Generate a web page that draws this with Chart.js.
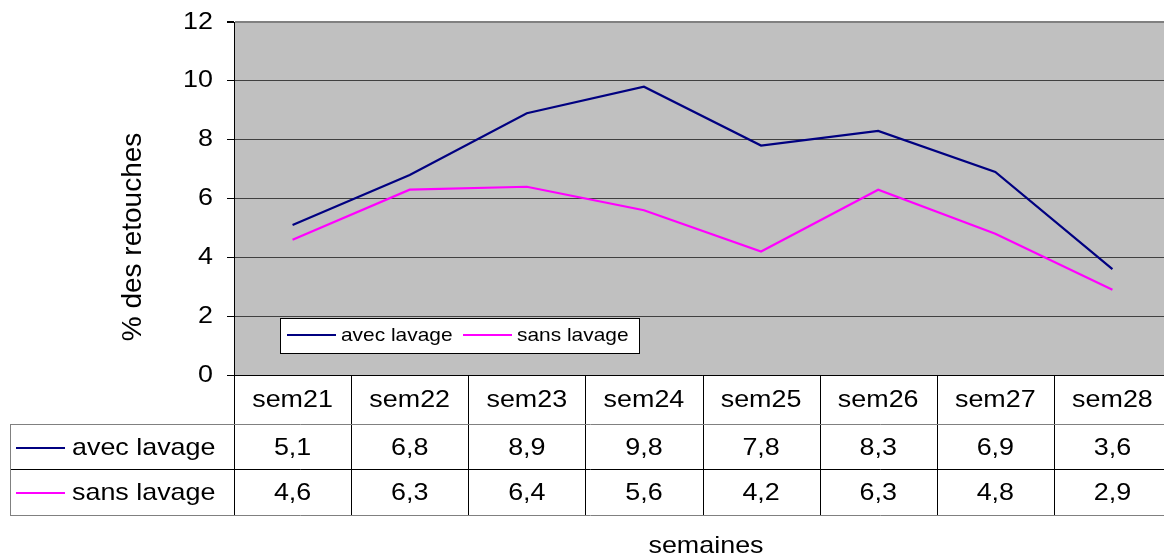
<!DOCTYPE html>
<html>
<head>
<meta charset="utf-8">
<title>% des retouches</title>
<script src="https://cdn.jsdelivr.net/npm/chart.js@4/dist/chart.umd.min.js"></script>
<style>
  html, body { margin: 0; padding: 0; background: #fff; overflow: hidden; }
  #wrap { width: 1172px; height: 560px; }
</style>
</head>
<body>
<div id="wrap"><canvas id="myChart" width="1172" height="560"></canvas></div>
<script>
// the data
let semaines = ['sem21', 'sem22', 'sem23', 'sem24', 'sem25', 'sem26', 'sem27', 'sem28'];
let avecLavage = [5.1, 6.8, 8.9, 9.8, 7.8, 8.3, 6.9, 3.6];
let sansLavage = [4.6, 6.3, 6.4, 5.6, 4.2, 6.3, 4.8, 2.9];
let yTicks = [0, 2, 4, 6, 8, 10, 12];

const FONT = '"Liberation Sans", Arial, sans-serif';

// text a bit stretched sideways, like the old excel picture
function txt(ctx, s, x, y, size, align, sx) {
  ctx.save();
  ctx.translate(x, y);
  ctx.scale(sx || 1, 1);
  ctx.font = size + 'px ' + FONT;
  ctx.fillStyle = '#000';
  ctx.textAlign = align;
  ctx.textBaseline = 'middle';
  ctx.fillText(s, 0, 0);
  ctx.restore();
}

function fr(v) {
  return String(v).replace('.', ',');
}

// grey plot background
const plotBg = {
  id: 'plotBg',
  beforeDraw(chart) {
    const a = chart.chartArea, ctx = chart.ctx;
    ctx.save();
    ctx.fillStyle = '#C0C0C0';
    ctx.fillRect(a.left, a.top, a.right - a.left, a.bottom - a.top);
    ctx.restore();
  }
};

// y labels, data table, legend box and axis titles
const extras = {
  id: 'extras',
  afterDraw(chart) {
    const ctx = chart.ctx, a = chart.chartArea;
    const x = chart.scales.x, y = chart.scales.y;
    const ds = chart.data.datasets;

    // y tick labels
    y.ticks.forEach(t => {
      txt(ctx, String(t.value), 213, y.getPixelForValue(t.value), 24, 'right', 1.12);
    });

    // data table
    const colW = (a.right - a.left) / semaines.length;
    const rows = [a.bottom, 424, 469, 515];
    ctx.save();
    ctx.lineWidth = 1;
    ctx.strokeStyle = '#000';
    ctx.beginPath();
    ctx.moveTo(a.left, a.bottom + 0.5); ctx.lineTo(a.right, a.bottom + 0.5);
    for (let i = 0; i <= semaines.length; i++) {
      let cx = Math.round(a.left + i * colW) + 0.5;
      ctx.moveTo(cx, rows[0]); ctx.lineTo(cx, rows[3]);
    }
    ctx.moveTo(10, rows[2] + 0.5); ctx.lineTo(a.right, rows[2] + 0.5);
    ctx.stroke();
    ctx.strokeStyle = '#808080';
    ctx.beginPath();
    ctx.moveTo(10, rows[1] + 0.5); ctx.lineTo(a.right, rows[1] + 0.5);
    ctx.moveTo(10, rows[3] + 0.5); ctx.lineTo(a.right, rows[3] + 0.5);
    ctx.moveTo(10.5, rows[1]); ctx.lineTo(10.5, rows[3]);
    ctx.stroke();
    ctx.restore();

    semaines.forEach((s, i) => {
      txt(ctx, s, x.getPixelForValue(i), 400, 24, 'center', 1.12);
    });
    const rowY = [448, 493];
    ds.forEach((d, r) => {
      ctx.save();
      ctx.strokeStyle = d.borderColor;
      ctx.lineWidth = 2;
      ctx.beginPath();
      ctx.moveTo(16, rowY[r]); ctx.lineTo(65, rowY[r]);
      ctx.stroke();
      ctx.restore();
      txt(ctx, d.label, 72, rowY[r], 24, 'left', 1.12);
      d.data.forEach((v, i) => {
        txt(ctx, fr(v), x.getPixelForValue(i), rowY[r], 24, 'center', 1.12);
      });
    });

    // legend inside the plot
    ctx.save();
    ctx.fillStyle = '#fff';
    ctx.fillRect(280, 318, 359, 35);
    ctx.strokeStyle = '#000';
    ctx.lineWidth = 1;
    ctx.strokeRect(280.5, 318.5, 359, 35);
    ctx.restore();
    const legX = [287, 463];
    ds.forEach((d, r) => {
      ctx.save();
      ctx.strokeStyle = d.borderColor;
      ctx.lineWidth = 2;
      ctx.beginPath();
      ctx.moveTo(legX[r], 335); ctx.lineTo(legX[r] + 49, 335);
      ctx.stroke();
      ctx.restore();
      txt(ctx, d.label, legX[r] + 54, 336, 19, 'left', 1.1);
    });

    // axis titles
    txt(ctx, 'semaines', 706, 546, 24, 'center', 1.12);
    ctx.save();
    ctx.translate(133, 237);
    ctx.rotate(-Math.PI / 2);
    ctx.font = '28px ' + FONT;
    ctx.fillStyle = '#000';
    ctx.textAlign = 'center';
    ctx.textBaseline = 'middle';
    ctx.fillText('% des retouches', 0, 0);
    ctx.restore();
  }
};

const options = {
  type: 'line',
  data: {
    labels: semaines,
    datasets: [{
      label: 'avec lavage',
      data: avecLavage,
      borderColor: '#000080',
      borderWidth: 2.2,
      pointRadius: 0,
      fill: false,
      tension: 0
    }, {
      label: 'sans lavage',
      data: sansLavage,
      borderColor: '#FF00FF',
      borderWidth: 2.2,
      pointRadius: 0,
      fill: false,
      tension: 0
    }]
  },
  options: {
    responsive: false,
    animation: false,
    layout: { padding: { left: 0, top: 22, right: 1, bottom: 185 } },
    plugins: {
      legend: { display: false },
      tooltip: { enabled: false }
    },
    scales: {
      x: {
        type: 'category',
        display: false,
        offset: true
      },
      y: {
        min: 0,
        max: 12,
        afterBuildTicks(scale) {
          scale.ticks = yTicks.map(v => ({ value: v }));
        },
        afterFit(scale) { scale.width = 234; },
        ticks: { display: false },
        border: { color: '#000', width: 1 },
        grid: {
          color: c => c.tick && c.tick.value === 12 ? '#808080' : '#404040',
          lineWidth: c => c.tick && c.tick.value === 12 ? 2 : 1,
          tickColor: '#000',
          tickLength: 7
        }
      }
    }
  },
  plugins: [plotBg, extras]
};

const myChart = new Chart(document.getElementById('myChart'), options);
</script>
</body>
</html>
